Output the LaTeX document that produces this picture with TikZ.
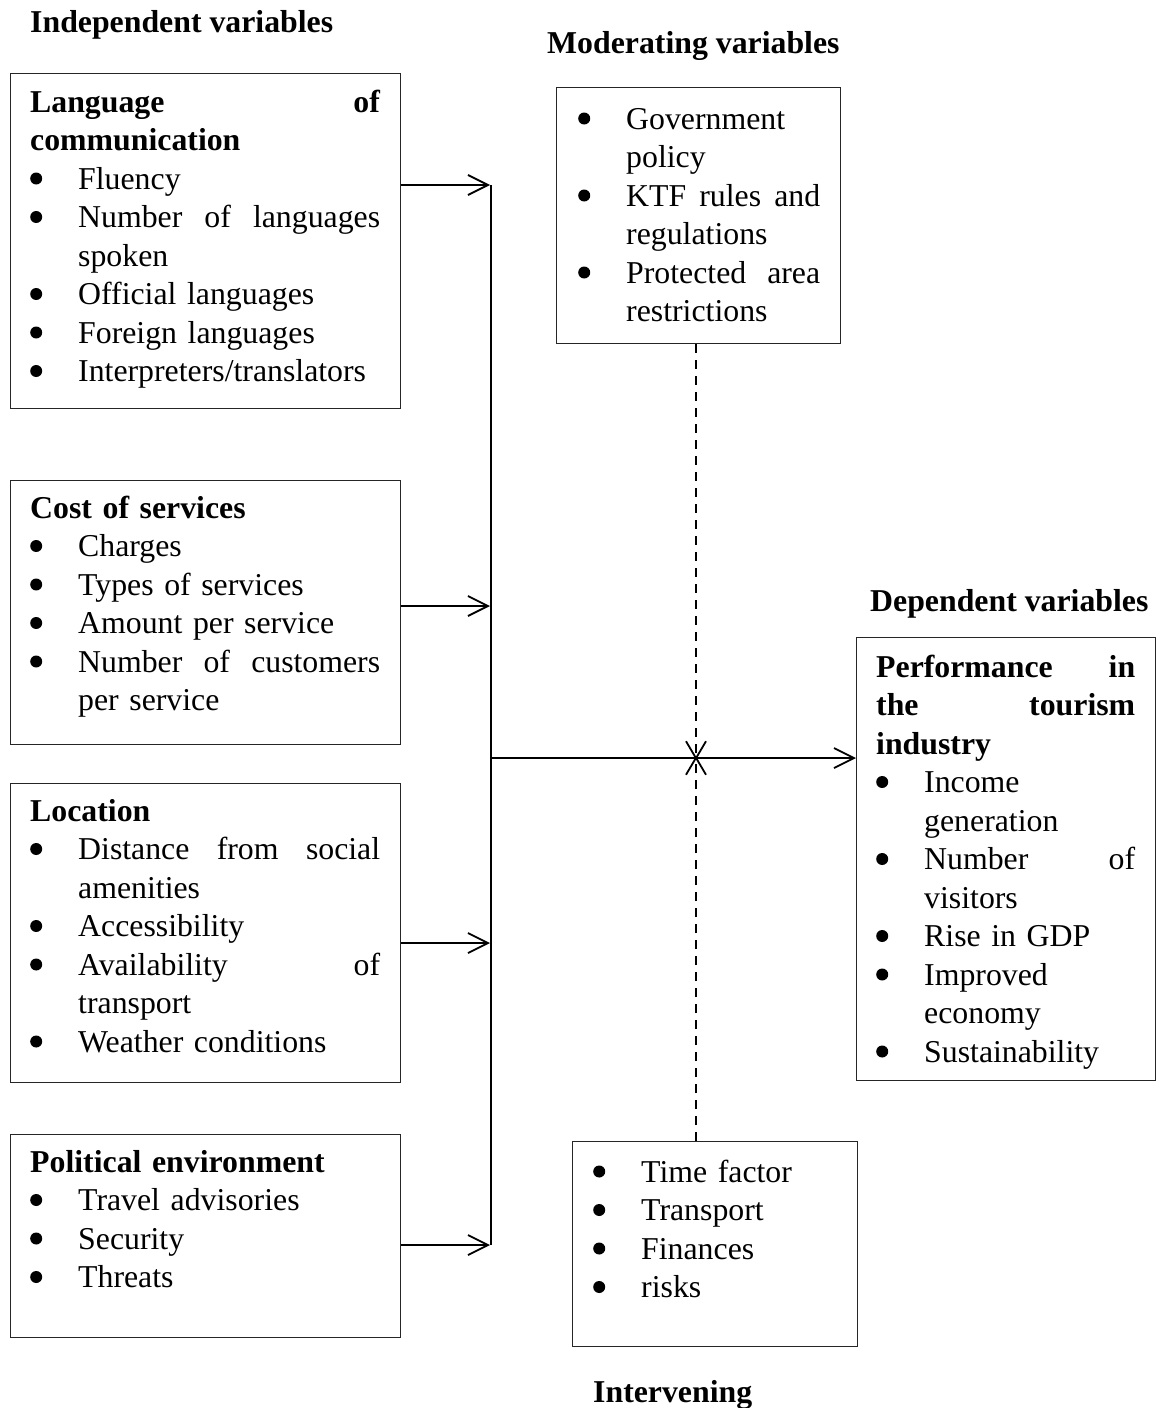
\documentclass[tikz,border=0pt]{standalone}
\usepackage{fontspec}
\setmainfont{Liberation Serif}
\usetikzlibrary{arrows.meta}
\setlength{\parindent}{0pt}
\newcommand{\dotb}{\tikz[x=1pt,y=1pt,baseline=0pt]\fill (6.5,10.5) circle[radius=6];}
\newcommand{\bul}[1]{\leavevmode\hangindent=48pt\hangafter=1\makebox[48pt][l]{\dotb}#1\par}
\newcommand{\hd}[1]{\textbf{#1}\par}
\begin{document}
\begin{tikzpicture}[x=1pt,y=-1pt,
  box/.style={draw=black!85,line width=1.3pt,inner sep=0pt,anchor=north west},
  txt/.style={anchor=base west,inner sep=0pt,align=left,font=\fontsize{31.8}{38.5}\selectfont},
  ttl/.style={anchor=base west,inner sep=0pt,font=\fontsize{31.8}{38.5}\selectfont\bfseries},
  arr/.style={line width=1.8pt,-{Straight Barb[length=20pt,width=20pt,line width=1.8pt]}},
  darr/.style={line width=1.8pt,dash pattern=on 9pt off 7pt,-{Straight Barb[length=17pt,width=20pt,line width=1.8pt]}},
  bus/.style={line width=1.8pt}]
\useasboundingbox (0,0) rectangle (1161,1408);
% titles
\node[ttl] (tind) at (30,32) {Independent variables};
\node[ttl] (tmod) at (547,53) {Moderating variables};
\node[ttl] (tdep) at (870,611) {Dependent variables};
\node[ttl] (tint) at (593,1402) {Intervening};
% boxes
\node[box,minimum width=390pt,minimum height=335pt] (lang) at (10,73) {};
\node[box,minimum width=390pt,minimum height=264pt] (cost) at (10,480) {};
\node[box,minimum width=390pt,minimum height=299pt] (loc) at (10,783) {};
\node[box,minimum width=390pt,minimum height=203pt] (pol) at (10,1134) {};
\node[box,minimum width=284pt,minimum height=256pt] (mod) at (556,87) {};
\node[box,minimum width=299pt,minimum height=443pt] (dep) at (856,637) {};
\node[box,minimum width=285pt,minimum height=205pt] (int) at (572,1141) {};
% texts
\node[txt,text width=350pt] (langt) at (30,112) {\textbf{Language\hfill of}\\\textbf{communication}\par
  \bul{Fluency}\bul{Number\hfill of\hfill languages\break spoken}\bul{Official languages}\bul{Foreign languages}\bul{Interpreters/translators}};
\node[txt,text width=350pt] (costt) at (30,518) {\hd{Cost of services}
  \bul{Charges}\bul{Types of services}\bul{Amount per service}\bul{Number\hfill of\hfill customers\break per service}};
\node[txt,text width=350pt] (loct) at (30,821) {\hd{Location}
  \bul{Distance\hfill from\hfill social\break amenities}\bul{Accessibility}\bul{Availability\hfill of\break transport}\bul{Weather conditions}};
\node[txt,text width=350pt] (polt) at (30,1172) {\hd{Political environment}
  \bul{Travel advisories}\bul{Security}\bul{Threats}};
\node[txt,text width=242pt] (modt) at (578,129) {\bul{Government\break policy}\bul{KTF\hfill rules\hfill and\break regulations}\bul{Protected\hfill area\break restrictions}};
\node[txt,text width=259pt] (dept) at (876,677) {\textbf{Performance\hfill in}\\\textbf{the\hfill tourism}\\\textbf{industry}\par
  \bul{Income\break generation}\bul{Number\hfill of\break visitors}\bul{Rise in GDP}\bul{Improved\break economy}\bul{Sustainability}};
\node[txt,text width=230pt] (intt) at (593,1182) {\bul{Time factor}\bul{Transport}\bul{Finances}\bul{risks}};
% bus line
\coordinate (b1) at (491,185);
\coordinate (b2) at (491,606);
\coordinate (b3) at (491,943);
\coordinate (b4) at (491,1245);
\coordinate (bm) at (491,758);
\coordinate (c) at (696,758);
\draw[bus] (b1) -- (b4);
\draw[arr] (lang.east |- b1) -- ([xshift=-1pt]b1);
\draw[arr] (cost.east |- b2) -- ([xshift=-1pt]b2);
\draw[arr] (loc.east |- b3) -- ([xshift=-1pt]b3);
\draw[arr] (pol.east |- b4) -- ([xshift=-1pt]b4);
\draw[arr] (bm) -- (dep.west |- bm);
\draw[darr] (mod.south -| c) -- ([yshift=-2pt]c);
\draw[darr] (int.north -| c) -- ([yshift=2pt]c);
\end{tikzpicture}
\end{document}
